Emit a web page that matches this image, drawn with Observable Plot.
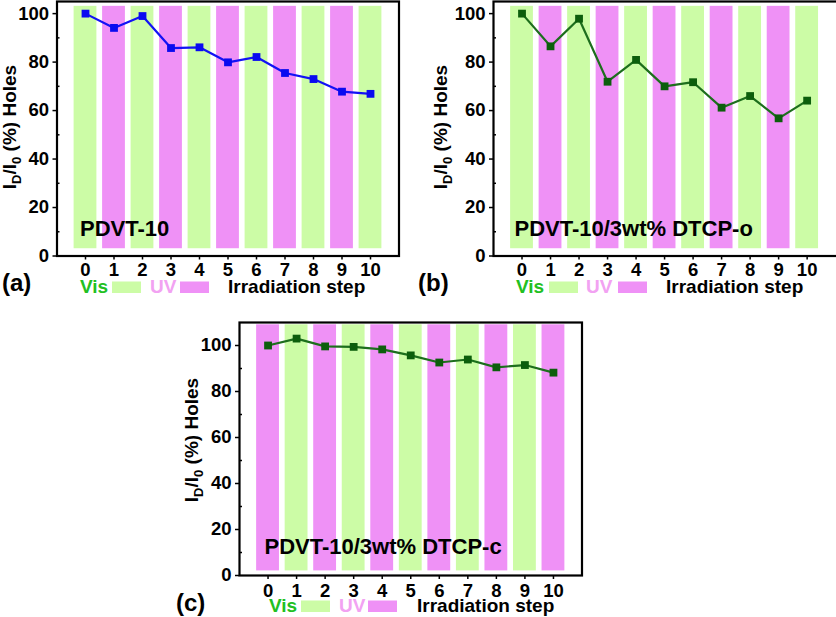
<!DOCTYPE html>
<html><head><meta charset="utf-8">
<script src="https://cdn.jsdelivr.net/npm/d3@7"></script>
<script src="https://cdn.jsdelivr.net/npm/@observablehq/plot@0.6"></script>
<style>
html,body{margin:0;padding:0;background:#fff;overflow:hidden;}
#root{position:relative;width:836px;height:617px;overflow:hidden;font-family:"Liberation Sans",Arial,sans-serif;}
.panel{position:absolute;}
</style></head><body><div id="root"></div>
<script>
// ---- data ----
const steps = [0, 1, 2, 3, 4, 5, 6, 7, 8, 9, 10];
const valuesA = [100, 94.1, 99.0, 85.8, 86.1, 79.9, 82.1, 75.5, 73.0, 67.8, 66.9];
const valuesB = [100, 86.5, 97.9, 71.9, 80.9, 70.0, 71.7, 61.2, 66.0, 56.8, 64.1];
const valuesC = [100, 103.0, 99.6, 99.4, 98.3, 95.7, 92.6, 93.9, 90.5, 91.5, 88.2];
const lightsAB = ["Vis", "UV", "Vis", "UV", "Vis", "UV", "Vis", "UV", "Vis", "UV", "Vis"];
const lightsC = ["UV", "Vis", "UV", "Vis", "UV", "Vis", "UV", "Vis", "UV", "Vis", "UV"];
const yTicks = [0, 20, 40, 60, 80, 100];
const yMinorTicks = [10, 30, 50, 70, 90];
const xTicks = steps;
const panelLetters = ["(a)", "(b)", "(c)"];
const sampleNames = ["PDVT-10", "PDVT-10/3wt% DTCP-o", "PDVT-10/3wt% DTCP-c"];
const legendLabels = ["Vis", "UV", "Irradiation step"];

// ---- styles ----
const FONT = '"Liberation Sans", Arial, sans-serif';
const VIS = "#ccfca6", UV = "#ef91f6";
const VIS_TEXT = "#22c022", UV_TEXT = "#f2a2f2";

const configs = [
  {left: 0, top: 0, width: 400, height: 300, mL: 56.5, mR: 1.5, mT: 1, mB: 44.5,
   xDomain: [-1, 11], yDomain: [0, 105], barY: [3, 103], values: valuesA, lights: lightsAB,
   line: "#1212f5", dotc: "#0a0af0", tickPad: 3,
   nameDx: 23, nameDy: -20, ylab: [16, 127],
   leg: {letter: 2, letterY: 291, vis: 80, box1: 112, uv: 150, box2: 180, irr: 228, base: 293}},
  {left: 416, top: 0, width: 424, height: 300, mL: 77, mR: 2, mT: 1, mB: 44.5,
   xDomain: [-1, 11.1], yDomain: [0, 105], barY: [3, 103], values: valuesB, lights: lightsAB,
   line: "#1d6e1d", dotc: "#0c5e0c", tickPad: 3,
   nameDx: 21, nameDy: -20, ylab: [31, 127],
   leg: {letter: 2, letterY: 291, vis: 100, box1: 133, uv: 170, box2: 202, irr: 250, base: 293}},
  {left: 170, top: 300, width: 414, height: 317, mL: 69, mR: 2.5, mT: 22, mB: 42,
   xDomain: [-1, 11], yDomain: [0, 110], barY: [2, 109], values: valuesC, lights: lightsC,
   line: "#1d6e1d", dotc: "#0c5e0c", tickPad: 4,
   nameDx: 25, nameDy: -22, ylab: [28, 140],
   leg: {letter: 6, letterY: 311, vis: 99, box1: 131, uv: 169, box2: 198, irr: 247, base: 312}}
];

const root = document.getElementById("root");

configs.forEach((cfg, k) => {
  const data = steps.map((s, i) => ({step: s, value: cfg.values[i], light: cfg.lights[i]}));
  const plot = Plot.plot({
    width: cfg.width, height: cfg.height,
    marginLeft: cfg.mL, marginRight: cfg.mR, marginTop: cfg.mT, marginBottom: cfg.mB,
    x: {domain: cfg.xDomain},
    y: {domain: cfg.yDomain},
    color: {domain: ["Vis", "UV"], range: [VIS, UV]},
    style: {fontFamily: FONT, fontSize: "18px", fontWeight: "bold", color: "#000",
            background: "transparent", maxWidth: "none", overflow: "visible"},
    marks: [
      Plot.rectY(data, {x1: d => d.step - 0.4, x2: d => d.step + 0.4,
                        y1: cfg.barY[0], y2: cfg.barY[1], fill: "light"}),
      Plot.axisY({ticks: yTicks, tickSize: 4, tickPadding: 4, label: null,
                  fontSize: 18.5, fontWeight: "bold", strokeWidth: 1.5}),
      Plot.axisY({ticks: yMinorTicks, tickSize: 3, dx: 3, text: null, label: null, strokeWidth: 1.5}),
      Plot.axisX({ticks: xTicks, tickSize: 4, tickPadding: cfg.tickPad, label: null,
                  tickFormat: d => String(d), fontSize: 18.5, fontWeight: "bold", strokeWidth: 1.5}),
      Plot.frame({stroke: "#000", strokeWidth: 2.2}),
      Plot.line(data, {x: "step", y: "value", stroke: cfg.line, strokeWidth: 2.2}),
      Plot.dot(data, {x: "step", y: "value", symbol: "square", r: 4.4, fill: cfg.dotc, stroke: "none"}),
      Plot.text([sampleNames[k]], {text: d => d, frameAnchor: "bottom-left", textAnchor: "start",
                  lineAnchor: "bottom", dx: cfg.nameDx, dy: cfg.nameDy, fontSize: 22,
                  fontWeight: "bold", fill: "#000"})
    ]
  });
  const div = document.createElement("div");
  div.className = "panel";
  div.style.left = cfg.left + "px";
  div.style.top = cfg.top + "px";
  div.appendChild(plot);
  root.appendChild(div);

  const svg = d3.select(plot);
  // y-axis label with subscripts
  const yl = svg.append("text")
    .attr("transform", `translate(${cfg.ylab[0]},${cfg.ylab[1]}) rotate(-90)`)
    .attr("text-anchor", "middle")
    .attr("font-family", FONT).attr("font-size", 19).attr("font-weight", "bold").attr("fill", "#000");
  yl.append("tspan").text("I");
  yl.append("tspan").attr("font-size", 13).attr("dy", 5).text("D");
  yl.append("tspan").attr("dy", -5).text("/I");
  yl.append("tspan").attr("font-size", 13).attr("dy", 5).text("0");
  yl.append("tspan").attr("dy", -5).text(" (%) Holes");

  // legend row
  const L = cfg.leg;
  const g = svg.append("g").attr("font-family", FONT).attr("font-weight", "bold").attr("text-anchor", "start");
  g.append("text").attr("x", L.letter).attr("y", L.letterY).attr("font-size", 24).attr("fill", "#000").text(panelLetters[k]);
  g.append("text").attr("x", L.vis).attr("y", L.base).attr("font-size", 19).attr("fill", VIS_TEXT).text(legendLabels[0]);
  g.append("rect").attr("x", L.box1).attr("y", L.base - 11.5).attr("width", 29).attr("height", 11.5).attr("fill", VIS);
  g.append("text").attr("x", L.uv).attr("y", L.base).attr("font-size", 19).attr("fill", UV_TEXT).text(legendLabels[1]);
  g.append("rect").attr("x", L.box2).attr("y", L.base - 11.5).attr("width", 29).attr("height", 11.5).attr("fill", UV);
  g.append("text").attr("x", L.irr).attr("y", L.base).attr("font-size", 19).attr("fill", "#000").text(legendLabels[2]);
});
</script>
</body></html>
